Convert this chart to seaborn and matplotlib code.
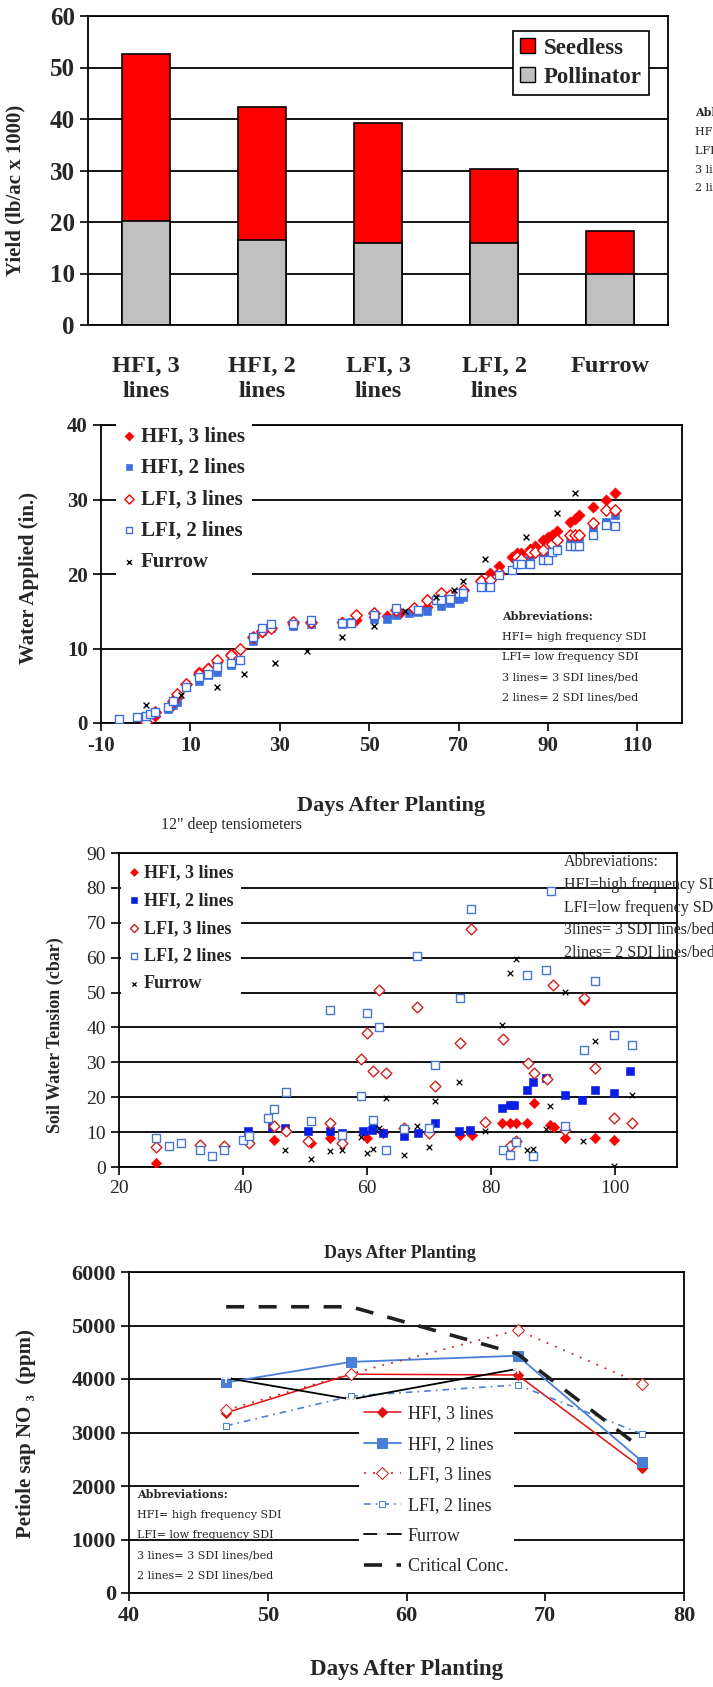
import numpy as np
import pandas as pd
import seaborn as sns
import matplotlib.pyplot as plt
from matplotlib.patches import Patch

# ---------------- data ----------------
treatments = ['HFI, 3\nlines', 'HFI, 2\nlines', 'LFI, 3\nlines', 'LFI, 2\nlines', 'Furrow']
pollinator = [20.2, 16.6, 15.9, 15.9, 10.0]
seedless = [32.4, 25.8, 23.4, 14.4, 8.3]

# water applied (in.) vs days after planting
wa_hfi3_day = [2, 6, 7, 9, 12, 14, 16, 19, 21, 24, 26, 28, 33, 37, 44, 47, 51, 54, 57, 60, 63, 66, 69, 71,
               75, 77, 79, 82, 83, 84, 86, 87, 89, 90, 91, 92, 95, 96, 97, 100, 103, 105]
wa_hfi3_val = [1.0, 2.4, 3.4, 5.3, 6.8, 7.4, 8.2, 9.2, 10.0, 11.6, 12.2, 12.8, 13.3, 13.4, 13.5, 13.8, 14.2,
               14.4, 14.8, 15.2, 15.6, 16.4, 17.0, 17.8, 19.2, 20.2, 21.1, 22.3, 22.8, 22.8, 23.4, 23.8, 24.5,
               24.9, 25.3, 25.8, 27.0, 27.4, 27.9, 29.0, 30.0, 30.9]
wa_hfi2_day = [0, 5, 6, 7, 9, 12, 14, 16, 19, 21, 24, 26, 28, 33, 37, 44, 46, 51, 54, 56, 59, 61, 63, 66, 68,
               70, 71, 75, 77, 79, 82, 83, 84, 86, 89, 90, 91, 92, 95, 96, 97, 100, 103, 105]
wa_hfi2_val = [0.6, 1.9, 2.4, 2.8, 5.0, 5.7, 6.4, 6.9, 7.8, 8.4, 11.0, 12.4, 12.8, 13.0, 13.3, 13.3, 13.6, 13.9,
               14.0, 14.5, 14.7, 14.9, 15.1, 15.7, 16.1, 16.6, 16.9, 18.3, 18.5, 20.0, 20.5, 21.5, 21.9, 22.2,
               22.6, 22.8, 23.2, 23.4, 24.3, 24.7, 24.9, 26.0, 27.0, 27.9]
wa_lfi3_day = [0, 2, 6, 7, 9, 12, 14, 16, 19, 21, 24, 26, 28, 33, 37, 47, 51, 56, 60, 63, 66, 68, 71, 75, 77,
               79, 83, 84, 86, 87, 89, 91, 92, 95, 96, 97, 100, 103, 105]
wa_lfi3_val = [0.1, 1.5, 3.0, 3.9, 5.3, 6.6, 7.2, 8.4, 9.1, 10.0, 11.5, 12.4, 12.7, 13.6, 13.6, 14.5, 14.7,
               15.2, 15.4, 16.5, 17.4, 17.2, 17.8, 19.0, 19.2, 20.1, 22.3, 22.0, 23.0, 23.0, 23.2, 24.0, 24.6,
               25.2, 25.2, 25.2, 26.8, 28.6, 28.6]
wa_lfi2_day = [-6, -2, 0, 1, 2, 5, 6, 9, 12, 14, 16, 19, 21, 24, 26, 28, 33, 37, 44, 46, 51, 56, 61, 65, 66,
               68, 70, 71, 75, 77, 79, 82, 83, 84, 86, 89, 90, 91, 92, 95, 96, 97, 100, 103, 105]
wa_lfi2_val = [0.6, 0.8, 1.0, 1.2, 1.5, 2.2, 3.0, 4.8, 6.2, 6.6, 7.5, 8.0, 8.4, 11.6, 12.7, 13.3, 13.3, 13.8,
               13.4, 13.4, 14.5, 15.4, 15.2, 16.5, 16.5, 16.7, 17.4, 17.4, 18.3, 18.3, 19.9, 20.5, 21.3, 21.4,
               21.4, 21.9, 21.9, 23.0, 23.2, 23.7, 23.7, 23.7, 25.2, 26.6, 26.4]
wa_fur_day = [0, 8, 16, 22, 29, 36, 44, 51, 58, 65, 69, 71, 76, 85, 92, 96]
wa_fur_val = [2.4, 3.7, 4.8, 6.6, 8.0, 9.6, 11.5, 13.0, 15.1, 16.9, 17.8, 19.1, 22.0, 25.0, 28.2, 30.9]

# soil water tension (cbar), 12" tensiometers
st_hfi3_day = [26, 45, 51, 54, 60, 62.6, 75, 77, 81.8, 83, 84, 85.8, 86.9, 89.5, 90.2, 92, 95, 96.8, 99.8]
st_hfi3_val = [1.1, 7.8, 6.9, 8.3, 8.3, 9.7, 9.3, 9.3, 12.6, 12.6, 12.6, 12.6, 18.3, 12.1, 11.6, 8.3, 48,
               8.3, 7.8]
st_hfi2_day = [40.8, 44.6, 46.8, 50.5, 54, 56, 59.3, 60.8, 61, 62.6, 66, 68.2, 71, 74.8, 76.6, 81.8, 83, 83.7,
               85.8, 86.7, 88.8, 92, 94.6, 96.8, 99.8, 102.4]
st_hfi2_val = [10.2, 11.6, 11.2, 10.2, 10.2, 9.7, 10.2, 10.7, 12.1, 9.7, 8.8, 9.7, 12.6, 10.2, 10.7, 16.9,
               17.9, 17.9, 22.2, 24.5, 25.5, 20.7, 19.3, 22.2, 21.2, 27.4]
st_lfi3_day = [26, 33, 37, 41, 45, 47, 50.5, 54, 56, 59, 60, 61, 62, 63, 66, 68, 70, 71, 75, 76.8, 79, 82,
               83, 84, 86, 87, 89, 90, 92, 95, 96.8, 99.8, 102.7]
st_lfi3_val = [5.7, 6.4, 5.9, 6.9, 11.7, 10.2, 7.4, 12.6, 6.9, 30.9, 38.4, 27.4, 50.8, 26.9, 11.2, 45.8, 9.7,
               23.1, 35.5, 68.2, 12.8, 36.7, 5.9, 7.4, 29.8, 26.9, 25.2, 52.2, 10.7, 48.4, 28.4, 14.0, 12.6]
st_lfi2_day = [26, 28, 30, 33, 35, 37, 40, 41, 44, 45, 47, 51, 54, 56, 59, 60, 61, 62, 63, 66, 68, 70, 71, 75,
               76.8, 82, 83, 84, 85.8, 86.7, 88.8, 89.6, 92, 95, 96.8, 99.8, 102.7]
st_lfi2_val = [8.3, 5.9, 6.9, 4.8, 3.1, 4.8, 7.8, 8.8, 14.0, 16.6, 21.4, 13.1, 45.1, 9.3, 20.4, 44.1, 13.6,
               40.0, 4.8, 10.9, 60.4, 11.2, 29.3, 48.4, 73.9, 5.0, 3.5, 7.2, 55.1, 3.1, 56.5, 79.2, 11.8, 33.6,
               53.2, 37.9, 35.1]
st_fur_day = [46.8, 50.9, 54, 56, 59, 60, 61, 62, 63, 66, 68, 70, 71, 74.8, 79, 81.8, 83, 84, 85.8, 86.7,
              88.8, 89.5, 91.9, 94.9, 96.8, 99.8, 102.7]
st_fur_val = [5.0, 2.3, 4.5, 4.8, 8.6, 4.0, 5.2, 11.2, 19.7, 3.5, 11.8, 5.7, 18.8, 24.5, 10.4, 40.8, 55.6,
              59.6, 5.0, 5.2, 10.9, 17.4, 50.3, 7.4, 36.0, 0.2, 20.7]

# petiole sap nitrate (ppm)
no3_day = [47, 56, 68, 77]
no3_hfi3 = [3370, 4090, 4075, 2330]
no3_hfi2 = [3935, 4320, 4435, 2455]
no3_lfi3 = [3420, 4100, 4915, 3900]
no3_lfi2 = [3125, 3680, 3890, 2970]
no3_fur_day = [47, 56, 68]
no3_fur = [4020, 3620, 4190]
no3_crit = [5350, 5350, 4470, 2690]

abbrev_sdi = ['HFI= high frequency SDI', 'LFI= low frequency SDI',
              '3 lines= 3 SDI lines/bed', '2 lines= 2 SDI lines/bed']
abbrev_tens = ['HFI=high frequency SDI', 'LFI=low frequency SDI',
               '3lines= 3 SDI lines/bed', '2lines= 2 SDI lines/bed']

# ---------------- figure ----------------
sns.set_style('white')
plt.rcParams['font.family'] = ['Liberation Serif', 'DejaVu Serif']
plt.rcParams['axes.unicode_minus'] = False

W, H = 713, 1687
fig = plt.figure(figsize=(W / 100, H / 100), dpi=100)

RED = '#ff0000'
BLUE = '#3c6ee0'


def box(l, t, r, b):
    return [l / W, 1 - b / H, (r - l) / W, (b - t) / H]


def fx(ax, px, py):
    # figure pixel -> axes fraction
    bb = ax.get_position()
    return ((px / W - bb.x0) / bb.width, ((1 - py / H) - bb.y0) / bb.height)


def frame(ax):
    for s in ax.spines.values():
        s.set_color('black')
        s.set_linewidth(1.3)
    ax.set_axisbelow(True)
    ax.yaxis.grid(True, color='black', linewidth=1.3)
    ax.xaxis.grid(False)
    ax.tick_params(direction='out', length=6, width=1.2, color='black', left=True, bottom=True)


def abbrev(x, y0, step, size, family, lines, bold_head=True):
    fig.text(x / W, 1 - y0 / H, 'Abbreviations:', fontsize=size, family=family,
             fontweight='bold' if bold_head else 'normal', va='center')
    for i, s in enumerate(lines):
        fig.text(x / W, 1 - (y0 + step * (i + 1)) / H, s, fontsize=size, family=family, va='center')


# ---- panel 1: yield ----
ax1 = fig.add_axes(box(88, 16, 668, 325))
frame(ax1)
df_yield = pd.DataFrame({'trt': treatments, 'pollinator': pollinator,
                         'total': np.add(pollinator, seedless)})
sns.barplot(data=df_yield, x='trt', y='total', color=RED, saturation=1, width=0.41,
            edgecolor='black', linewidth=1.2, errorbar=None, ax=ax1)
sns.barplot(data=df_yield, x='trt', y='pollinator', color='#c0c0c0', saturation=1, width=0.41,
            edgecolor='black', linewidth=1.2, errorbar=None, ax=ax1)
ax1.set_xlim(-0.5, 4.5)
ax1.set_ylim(0, 60)
ax1.set_yticks(range(0, 61, 10))
ax1.set_xticks(np.arange(-0.5, 4.6, 1), minor=True)
ax1.tick_params(axis='x', which='major', length=0, pad=22)
ax1.tick_params(axis='x', which='minor', length=7, width=1.2, direction='out')
for lab in ax1.get_xticklabels():
    lab.set_fontsize(17.5)
    lab.set_fontweight('bold')
    lab.set_linespacing(1.25)
for lab in ax1.get_yticklabels():
    lab.set_fontsize(18)
    lab.set_fontweight('bold')
ax1.set_xlabel('')
ax1.set_ylabel('Yield (lb/ac x 1000)', fontsize=15, fontweight='bold')
ax1.yaxis.set_label_coords(*fx(ax1, 25, 190))
leg = ax1.legend(handles=[Patch(facecolor=RED, edgecolor='black', label='Seedless'),
                          Patch(facecolor='#c0c0c0', edgecolor='black', label='Pollinator')],
                 loc='upper left', bbox_to_anchor=fx(ax1, 513, 31), borderaxespad=0,
                 prop={'size': 16.5, 'weight': 'bold'}, handlelength=0.65, handleheight=0.65,
                 handletextpad=0.4, labelspacing=0.35, borderpad=0.3, fancybox=False,
                 framealpha=1)
leg.get_frame().set_edgecolor('black')
leg.get_frame().set_linewidth(1.2)
# abbreviation note that runs off the right edge
fig.text(695 / W, 1 - 112 / H, 'Abbreviations:', fontsize=8, family='DejaVu Serif', fontweight='bold',
         va='center')
for i, s in enumerate(abbrev_sdi):
    fig.text(695 / W, 1 - (132 + 18.5 * i) / H, s, fontsize=8, family='DejaVu Serif', va='center')

# ---- panel 2: water applied ----
ax2 = fig.add_axes(box(101, 425, 682, 723))
frame(ax2)
sns.scatterplot(x=wa_hfi3_day, y=wa_hfi3_val, marker='D', color=RED, s=32, edgecolor=RED,
                label='HFI, 3 lines', ax=ax2, zorder=3)
sns.scatterplot(x=wa_hfi2_day, y=wa_hfi2_val, marker='s', color=BLUE, s=32, edgecolor=BLUE,
                label='HFI, 2 lines', ax=ax2, zorder=3)
sns.scatterplot(x=wa_lfi3_day, y=wa_lfi3_val, marker='D', facecolor='white', edgecolor=RED, s=34,
                linewidth=1, label='LFI, 3 lines', ax=ax2, zorder=3)
sns.scatterplot(x=wa_lfi2_day, y=wa_lfi2_val, marker='s', facecolor='white', edgecolor=BLUE, s=34,
                linewidth=1, label='LFI, 2 lines', ax=ax2, zorder=3)
sns.scatterplot(x=wa_fur_day, y=wa_fur_val, marker='x', color='black', s=18, linewidth=1,
                label='Furrow', ax=ax2, zorder=3)
ax2.set_xlim(-10, 120)
ax2.set_ylim(0, 40)
ax2.set_xticks(range(-10, 111, 20))
ax2.set_yticks(range(0, 41, 10))
for lab in ax2.get_xticklabels() + ax2.get_yticklabels():
    lab.set_fontsize(15)
    lab.set_fontweight('bold')
ax2.set_xlabel('')
ax2.set_ylabel('Water Applied (in.)', fontsize=15, fontweight='bold')
ax2.yaxis.set_label_coords(*fx(ax2, 39, 578))
leg = ax2.legend(loc='upper left', bbox_to_anchor=fx(ax2, 116, 419), borderaxespad=0,
                 prop={'size': 15, 'weight': 'bold'}, handlelength=0.5, handletextpad=0.35,
                 labelspacing=0.55, borderpad=0.35, framealpha=1, fancybox=False,
                 markerscale=0.8)
leg.get_frame().set_linewidth(0)
fig.text(391 / W, 1 - 806 / H, 'Days After Planting', fontsize=16, fontweight='bold',
         ha='center', va='center')
abbrev(502, 617, 20, 8, 'DejaVu Serif', abbrev_sdi)

# ---- panel 3: soil water tension ----
fig.text(161 / W, 1 - 825 / H, '12" deep tensiometers', fontsize=11.5, va='center')
ax3 = fig.add_axes(box(119, 853, 677, 1167))
frame(ax3)
sns.scatterplot(x=st_hfi3_day, y=st_hfi3_val, marker='D', color=RED, s=28, edgecolor=RED,
                label='HFI, 3 lines', ax=ax3, zorder=3)
sns.scatterplot(x=st_hfi2_day, y=st_hfi2_val, marker='s', color='#0a1ee6', s=30, edgecolor='#0a1ee6',
                label='HFI, 2 lines', ax=ax3, zorder=3)
sns.scatterplot(x=st_lfi3_day, y=st_lfi3_val, marker='D', facecolor='white', edgecolor='#d02020', s=30,
                linewidth=1, label='LFI, 3 lines', ax=ax3, zorder=3)
sns.scatterplot(x=st_lfi2_day, y=st_lfi2_val, marker='s', facecolor='white', edgecolor='#4a78d0', s=26,
                linewidth=1, label='LFI, 2 lines', ax=ax3, zorder=3)
sns.scatterplot(x=st_fur_day, y=st_fur_val, marker='x', color='black', s=16, linewidth=0.9,
                label='Furrow', ax=ax3, zorder=3)
ax3.set_xlim(20, 110)
ax3.set_ylim(0, 90)
ax3.set_xticks(range(20, 101, 20))
ax3.set_yticks(range(0, 91, 10))
for lab in ax3.get_xticklabels() + ax3.get_yticklabels():
    lab.set_fontsize(14)
ax3.set_xlabel('')
ax3.set_ylabel('Soil Water Tension (cbar)', fontsize=13, fontweight='bold')
ax3.yaxis.set_label_coords(*fx(ax3, 64, 1035))
leg = ax3.legend(loc='upper left', bbox_to_anchor=fx(ax3, 121, 856), borderaxespad=0,
                 prop={'size': 13, 'weight': 'bold'}, handlelength=0.5, handletextpad=0.3,
                 labelspacing=0.6, borderpad=0.45, framealpha=1, fancybox=False,
                 markerscale=0.75)
leg.get_frame().set_linewidth(0)
abbrev(564, 862, 22.8, 11.5, 'Liberation Serif', abbrev_tens, bold_head=False)
fig.text(400 / W, 1 - 1253 / H, 'Days After Planting', fontsize=13, fontweight='bold',
         ha='center', va='center')

# ---- panel 4: petiole nitrate ----
ax4 = fig.add_axes(box(129, 1272, 684, 1593))
frame(ax4)
sns.lineplot(x=no3_day, y=no3_hfi3, color='#e01010', linewidth=1.1, marker='D', markersize=5,
             markeredgecolor='#e01010', label='HFI, 3 lines', ax=ax4)
sns.lineplot(x=no3_day, y=no3_hfi2, color='#4a7fd8', linewidth=1.3, marker='s', markersize=7,
             markeredgecolor='#4a7fd8', label='HFI, 2 lines', ax=ax4)
sns.lineplot(x=no3_day, y=no3_lfi3, color='#d02020', linewidth=1.3, linestyle=(0, (1, 4)), marker='D',
             markersize=6, markerfacecolor='white', markeredgecolor='#d02020', label='LFI, 3 lines', ax=ax4)
sns.lineplot(x=no3_day, y=no3_lfi2, color='#4a7fd8', linewidth=1.2, linestyle=(0, (4, 3, 1, 3)),
             marker='s', markersize=5, markerfacecolor='white', markeredgecolor='#4a7fd8',
             label='LFI, 2 lines', ax=ax4)
sns.lineplot(x=no3_fur_day, y=no3_fur, color='black', linewidth=1.3, marker='+', markersize=7,
             markeredgewidth=1.2, label='Furrow', ax=ax4)
sns.lineplot(x=no3_day, y=no3_crit, color='#202020', linewidth=2.6, linestyle=(0, (5, 4)),
             label='Critical Conc.', ax=ax4)
ax4.set_xlim(40, 80)
ax4.set_ylim(0, 6000)
ax4.set_xticks(range(40, 81, 10))
ax4.set_yticks(range(0, 6001, 1000))
for lab in ax4.get_xticklabels() + ax4.get_yticklabels():
    lab.set_fontsize(16)
    lab.set_fontweight('bold')
ax4.set_xlabel('')
ax4.set_ylabel('Petiole sap NO \u2083  (ppm)', fontsize=15, fontweight='bold')
ax4.yaxis.set_label_coords(*fx(ax4, 36, 1434))
leg = ax4.legend(loc='upper left', bbox_to_anchor=fx(ax4, 359, 1400), borderaxespad=0,
                 prop={'size': 13}, handlelength=2.0, handletextpad=0.4, labelspacing=0.75,
                 borderpad=0.3, framealpha=1, fancybox=False)
leg.get_frame().set_linewidth(0)
abbrev(137, 1495, 20, 8, 'DejaVu Serif', abbrev_sdi)
fig.text(407 / W, 1 - 1670 / H, 'Days After Planting', fontsize=16.5, fontweight='bold',
         ha='center', va='center')

fig.savefig('out.png', dpi=100, facecolor='white')
